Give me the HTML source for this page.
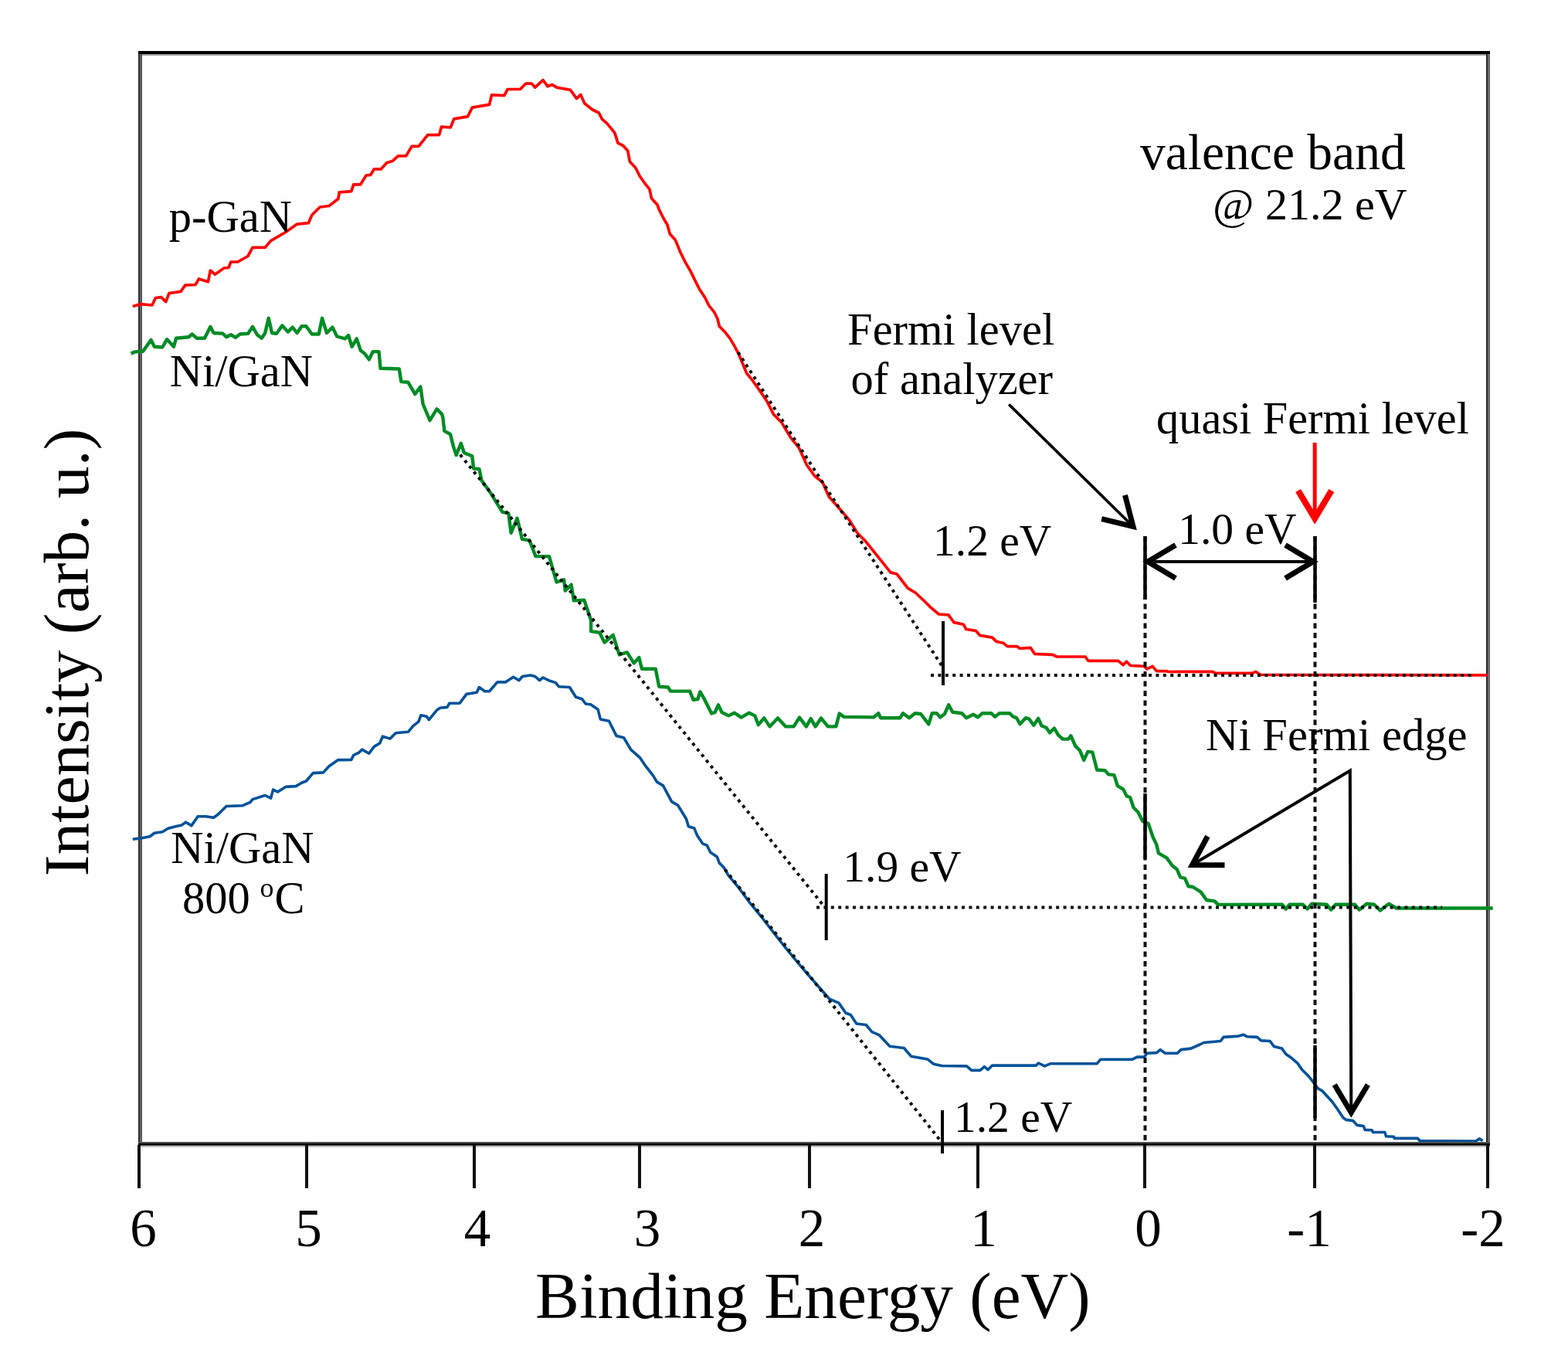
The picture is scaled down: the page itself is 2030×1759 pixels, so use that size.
<!DOCTYPE html>
<html><head><meta charset="utf-8"><title>Valence band spectra</title>
<style>html,body{margin:0;padding:0;background:#fff;overflow:hidden;} svg{display:block;}</style></head>
<body><svg width="2030" height="1759" viewBox="0 0 2030 1759">
<rect width="2030" height="1759" fill="#fff"/>
<rect x="179" y="66" width="2.6" height="1418" fill="#2e2e2e"/>
<rect x="181.6" y="66" width="2.4" height="1418" fill="#575757"/>
<rect x="1924" y="66" width="2.6" height="1418" fill="#2a2a2a"/>
<rect x="1926.6" y="66" width="2.4" height="1418" fill="#646464"/>
<rect x="179" y="66" width="1750" height="4" fill="#000"/>
<rect x="184" y="70" width="1740" height="2" fill="#a0a0a0"/>
<polyline points="171.8,396.5 182.2,393.6 197.0,395.0 201.4,385.5 208.8,384.7 214.7,390.6 219.0,379.5 234.0,377.3 239.8,369.2 253.0,368.5 257.5,361.0 269.4,364.8 272.3,350.0 278.2,355.2 290.0,347.0 296.0,346.3 298.9,339.0 307.8,339.0 321.0,331.5 327.0,320.4 343.2,320.4 350.6,311.6 369.8,300.5 384.6,290.1 399.4,288.7 403.8,278.3 414.2,268.0 426.0,266.5 437.8,257.6 439.3,248.8 454.8,247.7 457.7,238.9 466.6,238.9 474.0,227.0 479.9,226.3 484.3,218.9 493.2,218.9 500.6,210.8 508.0,208.6 515.4,201.9 525.7,201.9 533.1,189.4 542.0,189.4 553.8,174.6 568.6,174.6 571.5,164.2 583.3,165.0 587.8,153.9 605.5,150.9 611.4,139.1 633.6,135.4 636.5,122.9 652.8,123.6 657.2,115.5 673.5,115.5 680.9,108.1 688.3,108.1 692.7,113.2 703.0,103.6 709.0,111.8 714.9,109.6 720.8,113.2 738.4,116.4 746.6,127.6 751.7,122.5 756.8,133.8 767.1,142.0 775.3,146.0 779.4,154.2 785.5,159.4 795.7,171.6 800.0,185.1 806.8,188.5 812.8,195.3 815.3,209.0 823.0,217.5 828.1,227.7 834.1,236.3 840.9,244.8 843.5,256.7 851.2,265.3 852.9,270.4 858.8,282.3 863.9,290.8 867.3,302.8 874.2,310.4 881.1,327.0 887.0,339.0 893.9,350.9 899.8,362.9 905.8,374.8 912.6,385.0 917.7,395.3 924.6,403.8 928.8,412.3 931.4,422.5 938.2,429.4 945.0,437.9 951.0,448.1 956.4,458.4 966.6,483.0 974.8,493.2 985.0,507.6 993.2,519.8 1001.4,536.2 1011.6,546.4 1023.9,566.9 1034.2,579.2 1044.4,601.7 1054.6,616.0 1064.9,624.2 1073.1,642.7 1087.4,659.0 1099.7,673.4 1109.9,689.7 1120.1,700.0 1136.5,720.4 1152.9,740.9 1161.1,743.0 1175.4,761.4 1185.6,767.5 1197.7,779.0 1204.8,786.1 1215.5,795.0 1227.9,795.9 1235.0,805.6 1247.4,808.3 1250.9,814.5 1263.3,816.3 1268.7,822.5 1284.6,825.1 1290.0,830.4 1298.8,832.2 1304.1,836.6 1316.5,836.6 1320.1,839.3 1334.3,838.4 1339.6,846.4 1362.7,847.3 1368.0,850.0 1405.2,850.0 1408.8,855.3 1447.8,855.3 1454.0,860.6 1458.4,856.2 1463.7,861.5 1481.5,862.4 1485.0,865.9 1492.1,862.4 1497.4,868.6 1509.8,868.6 1513.4,869.5 1569.7,869.3 1573.8,871.4 1621.4,871.4 1625.5,869.3 1631.7,873.5 1925.5,873.9" fill="none" stroke="#ff0000" stroke-width="3.7" stroke-linejoin="round"/>
<polyline points="169.6,457.6 174.8,455.4 185.1,454.7 195.5,439.9 199.9,448.8 210.2,449.5 216.2,439.2 225.0,448.8 228.0,437.7 244.2,436.2 248.7,432.5 254.6,437.7 264.9,437.7 272.3,422.9 276.7,431.0 288.6,431.8 293.0,436.2 298.9,433.2 304.8,436.9 310.7,432.5 321.1,431.8 327.0,422.9 332.9,433.2 338.8,437.7 343.2,431.0 347.7,411.8 352.1,431.0 358.0,431.8 365.4,421.4 372.8,429.6 378.7,423.6 384.6,431.0 390.5,422.2 396.4,422.2 403.8,432.5 412.7,432.5 417.1,411.8 423.0,431.0 430.4,423.6 436.3,435.5 446.7,438.4 451.1,434.0 455.6,448.8 461.8,438.4 466.9,453.8 472.0,457.6 477.8,465.3 482.9,455.1 490.6,455.1 492.5,476.8 516.8,477.5 519.4,494.1 528.4,494.8 537.3,510.1 544.4,500.5 547.6,523.0 556.5,544.1 565.5,529.4 571.9,535.8 573.3,540.0 575.4,557.9 583.0,562.0 587.1,578.4 590.7,589.1 596.8,573.8 600.9,586.1 611.2,590.2 613.2,606.5 620.4,607.0 623.5,621.9 634.6,637.3 650.5,662.8 658.4,664.4 661.6,689.8 669.6,670.7 675.9,697.8 685.5,699.4 693.5,720.1 711.0,720.1 720.5,753.5 730.1,750.3 731.7,764.6 739.6,756.7 742.8,777.4 756.3,776.6 765.1,802.8 765.1,817.1 776.2,818.7 782.6,831.5 793.7,821.9 801.7,847.4 811.8,844.4 820.7,858.4 827.3,851.0 831.0,865.8 848.8,865.8 853.2,888.7 865.0,889.5 868.0,894.6 893.1,894.6 897.5,905.7 903.4,905.0 906.4,895.4 912.3,905.7 921.2,923.4 925.6,922.0 930.0,912.4 934.5,922.0 943.3,926.4 950.7,922.7 959.6,928.6 969.9,922.7 977.3,926.4 981.8,938.2 989.2,929.4 996.5,940.4 1006.9,929.4 1017.2,940.4 1027.6,940.4 1035.0,928.6 1043.8,940.4 1049.7,930.1 1055.6,940.4 1063.0,929.4 1071.9,940.4 1082.3,940.4 1086.7,923.4 1092.6,927.9 1131.4,928.4 1137.3,923.2 1140.2,929.2 1165.4,929.2 1169.1,923.2 1177.2,929.2 1184.6,923.2 1192.0,924.0 1202.3,937.3 1206.7,923.2 1212.7,923.2 1217.1,928.4 1223.0,924.0 1228.2,912.2 1233.3,921.8 1245.2,923.2 1251.1,929.2 1260.0,924.7 1265.9,928.4 1271.8,923.2 1283.6,923.2 1288.0,927.7 1293.9,923.2 1307.2,923.2 1311.7,927.7 1316.1,929.2 1320.5,937.3 1327.9,929.2 1332.4,930.6 1338.3,938.8 1344.2,929.9 1348.6,939.5 1354.5,941.7 1358.9,948.4 1364.9,942.5 1370.0,951.4 1375.9,956.6 1383.3,956.6 1386.3,952.2 1392.2,965.5 1398.1,971.4 1403.2,983.9 1408.4,972.9 1414.3,973.6 1420.2,996.5 1430.6,997.2 1435.0,1002.4 1442.4,1003.1 1446.8,1017.2 1454.2,1021.6 1458.7,1030.5 1463.1,1032.0 1467.5,1045.3 1473.4,1051.2 1479.4,1063.0 1486.7,1066.0 1492.7,1083.7 1497.1,1092.6 1500.0,1104.4 1510.4,1110.3 1517.8,1120.6 1523.7,1125.1 1528.1,1135.4 1534.0,1136.9 1538.5,1147.2 1544.4,1148.0 1554.7,1154.6 1562.1,1165.0 1572.5,1166.4 1576.9,1170.9 1659.9,1170.7 1664.7,1176.5 1669.5,1170.7 1686.8,1170.7 1692.6,1176.5 1698.3,1169.8 1717.5,1170.7 1723.3,1177.5 1729.1,1170.7 1754.0,1170.7 1759.8,1177.5 1769.4,1169.8 1779.0,1170.7 1786.7,1178.4 1798.2,1169.8 1807.8,1175.5 1932.7,1175.5" fill="none" stroke="#008c25" stroke-width="4.4" stroke-linejoin="round"/>
<polyline points="171.8,1086.3 182.2,1084.9 194.0,1082.7 199.9,1078.2 210.2,1076.7 217.6,1072.3 228.0,1069.4 235.4,1067.9 240.5,1064.2 247.9,1068.6 256.1,1056.8 266.4,1056.8 276.7,1058.3 282.7,1053.8 293.0,1043.5 313.7,1042.8 324.0,1038.3 327.0,1034.6 343.2,1029.5 350.6,1033.1 353.6,1022.1 359.5,1025.0 369.8,1018.4 383.1,1017.6 390.5,1013.2 396.4,1011.0 405.3,1000.6 418.6,999.9 426.0,991.8 437.8,983.6 454.8,983.4 457.7,977.5 465.1,973.8 468.8,970.1 477.7,975.3 484.3,966.4 491.7,962.0 495.4,953.1 505.0,956.1 512.4,948.7 528.7,947.2 534.6,939.8 542.0,933.9 544.9,925.8 552.3,927.2 555.3,931.7 565.6,919.1 570.0,916.2 578.9,915.4 581.9,910.2 595.2,910.2 604.0,898.4 617.3,896.2 620.3,889.6 627.7,894.7 633.6,894.7 643.9,882.9 654.3,882.9 664.6,876.3 672.0,880.7 676.4,875.5 686.8,874.0 692.7,875.5 698.6,880.7 703.0,877.0 710.4,880.7 719.3,883.6 723.7,888.8 737.5,889.5 745.5,902.3 753.4,904.7 758.2,911.0 764.6,911.8 774.1,918.2 777.3,930.9 788.4,933.3 798.0,952.4 807.5,954.8 817.1,970.7 828.2,980.3 834.6,989.8 845.7,1004.1 850.5,1012.1 858.5,1016.9 869.6,1037.6 877.6,1042.3 888.5,1060.0 891.4,1069.7 898.8,1071.9 902.7,1081.6 909.6,1091.8 915.2,1094.1 919.8,1103.2 928.3,1108.9 931.2,1116.9 936.9,1122.5 943.1,1133.1 956.0,1148.5 970.7,1168.4 986.0,1187.0 1001.4,1206.8 1016.0,1225.5 1032.1,1245.2 1047.0,1262.5 1062.8,1280.5 1073.6,1292.8 1085.9,1298.1 1095.1,1311.2 1101.2,1313.5 1108.9,1325.0 1121.2,1326.5 1128.9,1335.7 1138.1,1339.6 1151.9,1354.2 1170.3,1356.5 1179.5,1367.2 1201.0,1371.1 1208.7,1377.2 1219.4,1379.5 1251.5,1379.9 1257.8,1385.4 1268.9,1385.4 1274.4,1380.7 1279.1,1384.6 1284.6,1379.1 1341.4,1379.1 1344.5,1376.0 1352.4,1379.9 1360.3,1376.7 1420.2,1376.7 1424.9,1371.2 1465.9,1371.2 1472.2,1368.1 1481.7,1368.1 1484.8,1363.3 1497.4,1362.6 1502.2,1358.6 1508.5,1363.3 1524.2,1363.3 1529.0,1358.6 1541.8,1357.1 1553.3,1352.0 1558.4,1349.5 1580.2,1347.5 1584.0,1342.4 1603.2,1341.1 1609.7,1339.2 1614.8,1341.8 1627.6,1342.4 1632.7,1346.9 1644.2,1347.5 1649.4,1354.6 1659.6,1357.1 1664.7,1364.2 1671.1,1368.7 1680.1,1376.4 1685.2,1384.0 1692.9,1391.7 1699.3,1399.4 1705.7,1408.4 1712.1,1412.2 1724.9,1426.3 1731.3,1435.3 1739.0,1446.8 1742.8,1449.4 1751.8,1450.6 1756.9,1456.4 1765.3,1457.5 1767.1,1462.4 1776.0,1462.8 1777.7,1465.5 1792.8,1465.5 1794.6,1470.8 1804.3,1471.2 1805.2,1473.4 1835.4,1473.4 1838.0,1476.5 1910.7,1477.0 1915.1,1473.9 1919.6,1476.5" fill="none" stroke="#00529a" stroke-width="3.6" stroke-linejoin="round"/>
<line x1="1482.5" y1="694" x2="1482.5" y2="1480" stroke="#111" stroke-width="4" stroke-dasharray="7 5.5"/>
<line x1="1482.5" y1="694" x2="1482.5" y2="776" stroke="#000" stroke-width="4.5"/>
<line x1="1482.5" y1="1027" x2="1482.5" y2="1112" stroke="#000" stroke-width="4.5"/>
<line x1="1702.5" y1="694" x2="1702.5" y2="1480" stroke="#111" stroke-width="4" stroke-dasharray="7 5.5"/>
<line x1="1702.5" y1="694" x2="1702.5" y2="780" stroke="#000" stroke-width="4.5"/>
<line x1="1702.5" y1="1353" x2="1702.5" y2="1447" stroke="#000" stroke-width="4.5"/>
<line x1="955.5" y1="456" x2="1221.5" y2="865" stroke="#111" stroke-width="4" stroke-dasharray="4 5.4"/>
<line x1="1205" y1="874" x2="1907" y2="874" stroke="#111" stroke-width="4" stroke-dasharray="4 5.4"/>
<line x1="595.8" y1="588.6" x2="1066" y2="1172" stroke="#111" stroke-width="4" stroke-dasharray="4 5.4"/>
<line x1="1057" y1="1174.6" x2="1867" y2="1174.6" stroke="#111" stroke-width="4" stroke-dasharray="4 5.4"/>
<line x1="938.6" y1="1125.4" x2="1218" y2="1477" stroke="#111" stroke-width="4" stroke-dasharray="4 5.4"/>
<line x1="1221" y1="804" x2="1221" y2="887" stroke="#000" stroke-width="4"/>
<line x1="1069.7" y1="1131" x2="1069.7" y2="1217" stroke="#000" stroke-width="4"/>
<line x1="1220" y1="1437" x2="1220" y2="1493" stroke="#000" stroke-width="4"/>
<rect x="179" y="1478" width="1750" height="2" fill="#505050"/>
<rect x="179" y="1480" width="1750" height="2.8" fill="#000"/>
<rect x="179" y="1482.8" width="1750" height="2" fill="#bdbdbd"/>
<line x1="180" y1="1482" x2="180" y2="1538" stroke="#111" stroke-width="4"/>
<line x1="397" y1="1482" x2="397" y2="1538" stroke="#111" stroke-width="4"/>
<line x1="614" y1="1482" x2="614" y2="1538" stroke="#111" stroke-width="4"/>
<line x1="828" y1="1482" x2="828" y2="1538" stroke="#111" stroke-width="4"/>
<line x1="1048" y1="1482" x2="1048" y2="1538" stroke="#111" stroke-width="4"/>
<line x1="1266" y1="1482" x2="1266" y2="1538" stroke="#111" stroke-width="4"/>
<line x1="1482" y1="1482" x2="1482" y2="1538" stroke="#111" stroke-width="4"/>
<line x1="1702" y1="1482" x2="1702" y2="1538" stroke="#111" stroke-width="4"/>
<line x1="1926" y1="1482" x2="1926" y2="1538" stroke="#111" stroke-width="4"/>
<line x1="1220" y1="1478" x2="1220" y2="1493" stroke="#000" stroke-width="4"/>
<line x1="1484" y1="727" x2="1702" y2="727" stroke="#000" stroke-width="4"/>
<path d="M1522.0,748.6 L1486.0,727.0 L1522.0,705.4" fill="none" stroke="#000" stroke-width="7" stroke-linecap="butt" stroke-linejoin="miter"/>
<path d="M1664.0,705.4 L1700.0,727.0 L1664.0,748.6" fill="none" stroke="#000" stroke-width="7" stroke-linecap="butt" stroke-linejoin="miter"/>
<line x1="1306.2" y1="523.5" x2="1466" y2="680.5" stroke="#000" stroke-width="3.8"/>
<path d="M1456.5,640.8 L1467.0,681.5 L1426.2,671.7" fill="none" stroke="#000" stroke-width="7" stroke-linecap="butt" stroke-linejoin="miter"/>
<line x1="1702.2" y1="572.9" x2="1702.2" y2="668" stroke="#ff0000" stroke-width="5"/>
<path d="M1723.8,635.0 L1702.2,671.0 L1680.6,635.0" fill="none" stroke="#ff0000" stroke-width="8"/>
<polyline points="1545,1118.5 1747.8,997.5 1749.3,1438" fill="none" stroke="#000" stroke-width="4" stroke-linejoin="miter"/>
<path d="M1585.5,1119.7 L1543.5,1119.5 L1563.4,1082.5" fill="none" stroke="#000" stroke-width="7" stroke-linecap="butt" stroke-linejoin="miter"/>
<path d="M1770.9,1404.0 L1749.3,1440.0 L1727.7,1404.0" fill="none" stroke="#000" stroke-width="7" stroke-linecap="butt" stroke-linejoin="miter"/>
<text x="218.8" y="299.5" font-size="58.5" font-family="Liberation Serif, Times New Roman, serif">p-GaN</text>
<text x="219.8" y="499.5" font-size="58.5" font-family="Liberation Serif, Times New Roman, serif">Ni/GaN</text>
<text x="221.2" y="1117.1" font-size="58.5" font-family="Liberation Serif, Times New Roman, serif">Ni/GaN</text>
<text x="1476.0" y="218.6" font-size="65.5" font-family="Liberation Serif, Times New Roman, serif">valence band</text>
<text x="1570.1" y="283.6" font-size="58" font-family="Liberation Serif, Times New Roman, serif">@ 21.2 eV</text>
<text x="693.0" y="1705.6" font-size="85.3" font-family="Liberation Serif, Times New Roman, serif">Binding Energy (eV)</text>
<text x="1097.1" y="446.1" font-size="58.5" font-family="Liberation Serif, Times New Roman, serif">Fermi level</text>
<text x="1101.6" y="509.7" font-size="58.5" font-family="Liberation Serif, Times New Roman, serif">of analyzer</text>
<text x="1497.1" y="561.0" font-size="58.3" font-family="Liberation Serif, Times New Roman, serif">quasi Fermi level</text>
<text x="1208.0" y="719.0" font-size="57.5" font-family="Liberation Serif, Times New Roman, serif">1.2 eV</text>
<text x="1525.2" y="703.8" font-size="57.5" font-family="Liberation Serif, Times New Roman, serif">1.0 eV</text>
<text x="1561.1" y="971.0" font-size="58.6" font-family="Liberation Serif, Times New Roman, serif">Ni Fermi edge</text>
<text x="1091.3" y="1140.5" font-size="57.5" font-family="Liberation Serif, Times New Roman, serif">1.9 eV</text>
<text x="1234.9" y="1465.3" font-size="57.5" font-family="Liberation Serif, Times New Roman, serif">1.2 eV</text>
<text x="236" y="1182" font-size="58.5" font-family="Liberation Serif, Times New Roman, serif">800 <tspan x="336.5" y="1160.5" font-size="36">o</tspan><tspan x="355.5" y="1182">C</tspan></text>
<text x="185.5" y="1612.5" font-size="69" text-anchor="middle" font-family="Liberation Serif, Times New Roman, serif">6</text>
<text x="399.4" y="1612.5" font-size="69" text-anchor="middle" font-family="Liberation Serif, Times New Roman, serif">5</text>
<text x="618.0" y="1612.5" font-size="69" text-anchor="middle" font-family="Liberation Serif, Times New Roman, serif">4</text>
<text x="838.0" y="1612.5" font-size="69" text-anchor="middle" font-family="Liberation Serif, Times New Roman, serif">3</text>
<text x="1051.0" y="1612.5" font-size="69" text-anchor="middle" font-family="Liberation Serif, Times New Roman, serif">2</text>
<text x="1273.5" y="1612.5" font-size="69" text-anchor="middle" font-family="Liberation Serif, Times New Roman, serif">1</text>
<text x="1486.6" y="1612.5" font-size="69" text-anchor="middle" font-family="Liberation Serif, Times New Roman, serif">0</text>
<text x="1695.0" y="1612.5" font-size="69" text-anchor="middle" font-family="Liberation Serif, Times New Roman, serif">-1</text>
<text x="1920.0" y="1612.5" font-size="69" text-anchor="middle" font-family="Liberation Serif, Times New Roman, serif">-2</text>
<text transform="translate(114,1131) rotate(-90)" x="-3.3" y="0" font-size="83.5" font-family="Liberation Serif, Times New Roman, serif">Intensity (arb. u.)</text>
</svg></body></html>
